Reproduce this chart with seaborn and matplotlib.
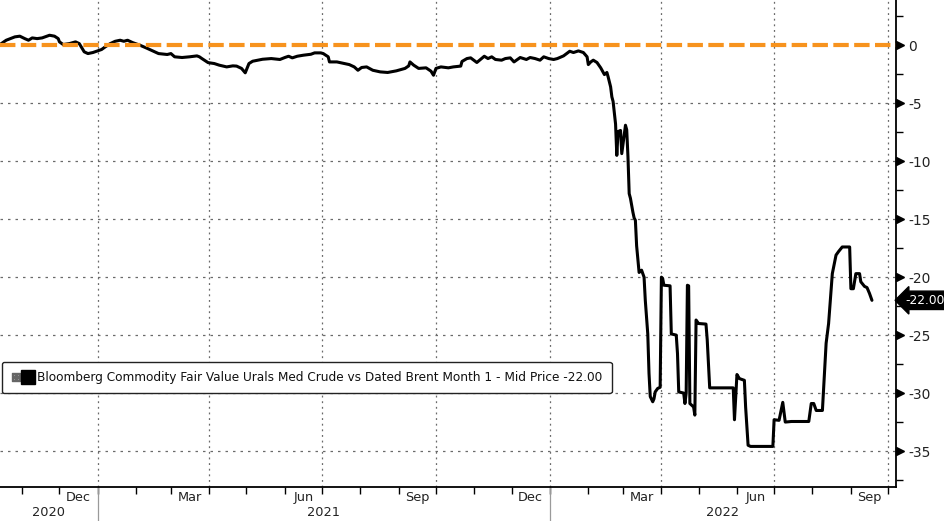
import numpy as np
import pandas as pd
import matplotlib
matplotlib.use("Agg")
import matplotlib.pyplot as plt
import matplotlib.dates as mdates
from matplotlib import font_manager
from matplotlib.lines import Line2D
from matplotlib.legend_handler import HandlerTuple
import seaborn as sns

""" DATA (read off the reference chart) """
series_name = "Bloomberg Commodity Fair Value Urals Med Crude vs Dated Brent Month 1 - Mid Price"

dates = [
	"2020-10-14", "2020-10-19", "2020-10-26", "2020-10-30", "2020-11-03", "2020-11-06",
	"2020-11-09", "2020-11-13", "2020-11-17", "2020-11-23", "2020-11-27", "2020-11-30",
	"2020-12-01", "2020-12-04", "2020-12-09", "2020-12-14", "2020-12-17", "2020-12-21",
	"2020-12-24", "2020-12-28", "2020-12-31", "2021-01-04", "2021-01-07", "2021-01-11",
	"2021-01-15", "2021-01-19", "2021-01-22", "2021-01-25", "2021-01-29", "2021-02-04",
	"2021-02-09", "2021-02-15", "2021-02-19", "2021-02-26", "2021-03-01", "2021-03-04",
	"2021-03-10", "2021-03-16", "2021-03-22", "2021-03-24", "2021-03-26", "2021-03-31",
	"2021-04-05", "2021-04-09", "2021-04-15", "2021-04-20", "2021-04-23", "2021-04-27",
	"2021-04-30", "2021-05-03", "2021-05-06", "2021-05-14", "2021-05-21", "2021-05-28",
	"2021-06-01", "2021-06-04", "2021-06-07", "2021-06-11", "2021-06-16", "2021-06-22",
	"2021-06-25", "2021-06-30", "2021-07-02", "2021-07-06", "2021-07-07", "2021-07-13",
	"2021-07-19", "2021-07-23", "2021-07-27", "2021-07-30", "2021-08-02", "2021-08-06",
	"2021-08-11", "2021-08-17", "2021-08-23", "2021-08-30", "2021-09-06", "2021-09-09",
	"2021-09-10", "2021-09-13", "2021-09-17", "2021-09-23", "2021-09-27", "2021-09-29",
	"2021-10-01", "2021-10-05", "2021-10-11", "2021-10-15", "2021-10-21", "2021-10-22",
	"2021-10-26", "2021-10-29", "2021-11-03", "2021-11-09", "2021-11-12", "2021-11-15",
	"2021-11-18", "2021-11-23", "2021-11-26", "2021-11-30", "2021-12-03", "2021-12-08",
	"2021-12-13", "2021-12-16", "2021-12-20", "2021-12-24", "2021-12-27", "2021-12-31",
	"2022-01-04", "2022-01-07", "2022-01-12", "2022-01-17", "2022-01-20", "2022-01-24",
	"2022-01-28", "2022-01-31", "2022-02-01", "2022-02-03", "2022-02-05", "2022-02-08",
	"2022-02-11", "2022-02-14", "2022-02-16", "2022-02-17", "2022-02-19", "2022-02-20",
	"2022-02-21", "2022-02-23", "2022-02-24", "2022-02-25", "2022-02-27", "2022-02-28",
	"2022-03-03", "2022-03-04", "2022-03-05", "2022-03-06", "2022-03-07", "2022-03-09",
	"2022-03-10", "2022-03-11", "2022-03-12", "2022-03-14", "2022-03-15", "2022-03-16",
	"2022-03-18", "2022-03-19", "2022-03-21", "2022-03-22", "2022-03-23", "2022-03-25",
	"2022-03-26", "2022-03-27", "2022-03-29", "2022-03-31", "2022-04-01", "2022-04-02",
	"2022-04-03", "2022-04-08", "2022-04-09", "2022-04-13", "2022-04-14", "2022-04-15",
	"2022-04-19", "2022-04-20", "2022-04-21", "2022-04-22", "2022-04-23", "2022-04-24",
	"2022-04-25", "2022-04-27", "2022-04-28", "2022-04-29", "2022-05-01", "2022-05-07",
	"2022-05-08", "2022-05-10", "2022-05-29", "2022-05-30", "2022-06-01", "2022-06-03",
	"2022-06-07", "2022-06-08", "2022-06-10", "2022-06-12", "2022-06-30", "2022-07-01",
	"2022-07-05", "2022-07-08", "2022-07-10", "2022-07-15", "2022-07-29", "2022-07-31",
	"2022-08-02", "2022-08-04", "2022-08-09", "2022-08-12", "2022-08-14", "2022-08-17",
	"2022-08-20", "2022-08-22", "2022-08-25", "2022-08-31", "2022-09-01", "2022-09-03",
	"2022-09-05", "2022-09-08", "2022-09-09", "2022-09-12", "2022-09-14", "2022-09-16",
	"2022-09-18",
]

values = [
	0.06, 0.43, 0.72, 0.78, 0.57, 0.43,
	0.63, 0.57, 0.63, 0.86, 0.78, 0.57,
	0.29, 0.06, 0.14, 0.29, 0.14, -0.57,
	-0.72, -0.63, -0.52, -0.37, -0.14, 0.14,
	0.34, 0.43, 0.34, 0.43, 0.23, 0.00,
	-0.23, -0.52, -0.72, -0.80, -0.72, -1.00,
	-1.06, -1.00, -0.92, -1.00, -1.15, -1.50,
	-1.58, -1.72, -1.87, -1.78, -1.80, -2.00,
	-2.38, -1.58, -1.38, -1.21, -1.15, -1.23,
	-1.06, -0.95, -1.09, -0.95, -0.86, -0.78,
	-0.66, -0.66, -0.72, -1.00, -1.44, -1.44,
	-1.58, -1.67, -1.87, -2.16, -1.92, -1.87,
	-2.16, -2.30, -2.35, -2.21, -2.00, -1.78,
	-1.44, -1.72, -2.00, -1.95, -2.24, -2.59,
	-2.00, -1.87, -1.95, -1.87, -1.80, -1.40,
	-1.15, -1.09, -1.49, -0.95, -1.15, -1.00,
	-1.23, -1.29, -1.15, -1.09, -1.44, -1.06,
	-1.23, -1.06, -1.15, -1.29, -1.00, -1.15,
	-1.23, -1.15, -0.92, -0.52, -0.63, -0.49,
	-0.63, -1.00, -1.67, -1.44, -1.29, -1.49,
	-1.95, -2.53, -2.35, -2.73, -3.59, -4.45,
	-4.85, -6.80, -9.50, -7.45, -7.35, -9.35,
	-6.90, -7.30, -9.60, -12.80, -13.20, -14.40,
	-14.90, -15.10, -17.30, -19.60, -19.50, -19.40,
	-20.00, -22.00, -24.90, -28.30, -30.30, -30.75,
	-30.50, -29.90, -29.60, -29.50, -20.00, -20.10,
	-20.70, -20.75, -24.90, -25.00, -26.60, -29.90,
	-30.00, -30.90, -30.00, -20.70, -20.75, -30.90,
	-31.00, -31.20, -31.90, -23.70, -24.00, -24.05,
	-25.40, -29.55, -29.55, -32.30, -28.40, -28.75,
	-28.90, -31.20, -34.50, -34.60, -34.60, -32.30,
	-32.35, -30.80, -32.50, -32.45, -32.45, -30.90,
	-30.90, -31.50, -31.50, -25.70, -24.00, -19.70,
	-18.10, -17.80, -17.40, -17.40, -21.00, -21.00,
	-19.70, -19.70, -20.40, -20.80, -20.90, -21.40,
	-22.00,
]

reference_level = 0.0
y_ticks = [0, -5, -10, -15, -20, -25, -30, -35]
y_minor = [2.5, -2.5, -7.5, -12.5, -17.5, -22.5, -27.5, -32.5, -37.5]
year_labels = ["2020", "2021", "2022"]
year_starts = ["2021-01-01", "2022-01-01"]

""" STYLE """
sns.set_theme(style="white")
names = {f.name for f in font_manager.fontManager.ttflist}
narrow = "Liberation Sans Narrow" if "Liberation Sans Narrow" in names else "DejaVu Sans"
plt.rcParams["font.family"] = [narrow, "DejaVu Sans"]
xsize = 11 if narrow != "DejaVu Sans" else 9.3
legsize = 11 if narrow != "DejaVu Sans" else 8.75

black = "#000000"
orange = "#F7931E"
grid = "#6a6a6a"

df = pd.DataFrame({"date": pd.to_datetime(dates), "value": values})

fig = plt.figure(figsize=(9.45, 5.21), dpi=100)
fig.patch.set_facecolor("white")
ax = fig.add_axes([0, 34 / 521, 896 / 945, 487 / 521])
ax.set_facecolor("white")

x0 = pd.Timestamp("2020-10-14")
x1 = pd.Timestamp("2022-10-07 10:00")

# quarter gridlines + horizontal gridlines
for q in pd.date_range("2021-01-01", x1, freq="QS"):
	ax.axvline(q, color=grid, lw=0.9, ls=(0, (1.5, 3)), zorder=1)
for yv in y_ticks[1:]:
	ax.axhline(yv, color=grid, lw=0.9, ls=(0, (2, 4)), zorder=1)

sns.lineplot(data=df, x="date", y="value", ax=ax, color=black, lw=2.2,
			 estimator=None, errorbar=None, legend=False, zorder=3)
ax.lines[-1].set_solid_joinstyle("round")
ax.axhline(reference_level, color=orange, lw=3.0, dashes=(3.7, 1.3),
		   dash_capstyle="butt", zorder=4)

ax.set_xlim(x0, x1)
ax.set_ylim(-38.1, 3.9)
ax.set_xlabel("")
ax.set_ylabel("")

# spines
for s in ["top", "left"]:
	ax.spines[s].set_visible(False)
for s in ["right", "bottom"]:
	ax.spines[s].set_visible(True)
	ax.spines[s].set_color(black)
	ax.spines[s].set_linewidth(1.3)

# x axis: monthly ticks, labels centred in Dec/Mar/Jun/Sep
ax.xaxis.set_minor_locator(mdates.MonthLocator())
ax.xaxis.set_major_locator(mdates.MonthLocator(bymonth=(3, 6, 9, 12), bymonthday=16))
ax.xaxis.set_major_formatter(mdates.DateFormatter("%b"))
ax.tick_params(axis="x", which="major", length=0, pad=3, labelsize=xsize, labelcolor="#222222")
ax.tick_params(axis="x", which="minor", length=5, width=1, color=black, direction="out", bottom=True)

for ys in year_starts:
	ax.axvline(pd.Timestamp(ys), ymin=-34 / 487, ymax=0, clip_on=False, color="#9a9a9a", lw=0.9)

edges = [x0] + [pd.Timestamp(y) for y in year_starts] + [x1]
for lab, a, b in zip(year_labels, edges[:-1], edges[1:]):
	mid = a + (b - a) / 2
	ax.text(mid, -26 / 487, lab, transform=ax.get_xaxis_transform(), ha="center", va="center",
			fontsize=xsize, color="#222222")

# y axis on the right with triangle markers
ax.yaxis.tick_right()
ax.set_yticks(y_ticks)
ax.set_yticklabels([f"{t:d}" for t in y_ticks])
ax.set_yticks(y_minor, minor=True)
ax.tick_params(axis="y", which="major", length=0, pad=9, labelsize=10, labelcolor="#222222",
			   right=True, left=False)
for lab in ax.get_yticklabels():
	lab.set_family("DejaVu Sans")
ax.tick_params(axis="y", which="minor", length=5, width=1, color=black, direction="out",
			   right=True, left=False)
ax.plot([1.0045] * len(y_ticks), y_ticks, transform=ax.get_yaxis_transform(), ls="",
		marker=">", ms=5.5, color=black, clip_on=False, zorder=6)

# last value tag
last = values[-1]
ax.annotate(f"{last:.2f}", xy=(1.0, last), xycoords=ax.get_yaxis_transform(),
			xytext=(6.5, 0), textcoords="offset points", ha="left", va="center",
			fontsize=8.8, color="white", family="DejaVu Sans",
			bbox=dict(boxstyle="larrow,pad=0.22", fc=black, ec=black), annotation_clip=False)

# legend
plus = Line2D([], [], ls="", marker=r"$\boxplus$", ms=6, color="#666666")
square = Line2D([], [], ls="", marker="s", ms=10, color=black)
leg = ax.legend([(plus, square)], [f"{series_name} {last:.2f}"],
				handler_map={tuple: HandlerTuple(ndivide=None, pad=0.2)},
				loc="upper left", bbox_to_anchor=(2 / 896, 125 / 487), borderaxespad=0,
				fontsize=legsize, frameon=True, fancybox=True, handlelength=1.8,
				handletextpad=0.35, borderpad=0.75)
leg.get_frame().set_edgecolor("#222222")
leg.get_frame().set_linewidth(1.0)
leg.get_frame().set_alpha(1)
for t in leg.get_texts():
	t.set_color("#111111")

fig.savefig("out.png", dpi=100, facecolor="white")
